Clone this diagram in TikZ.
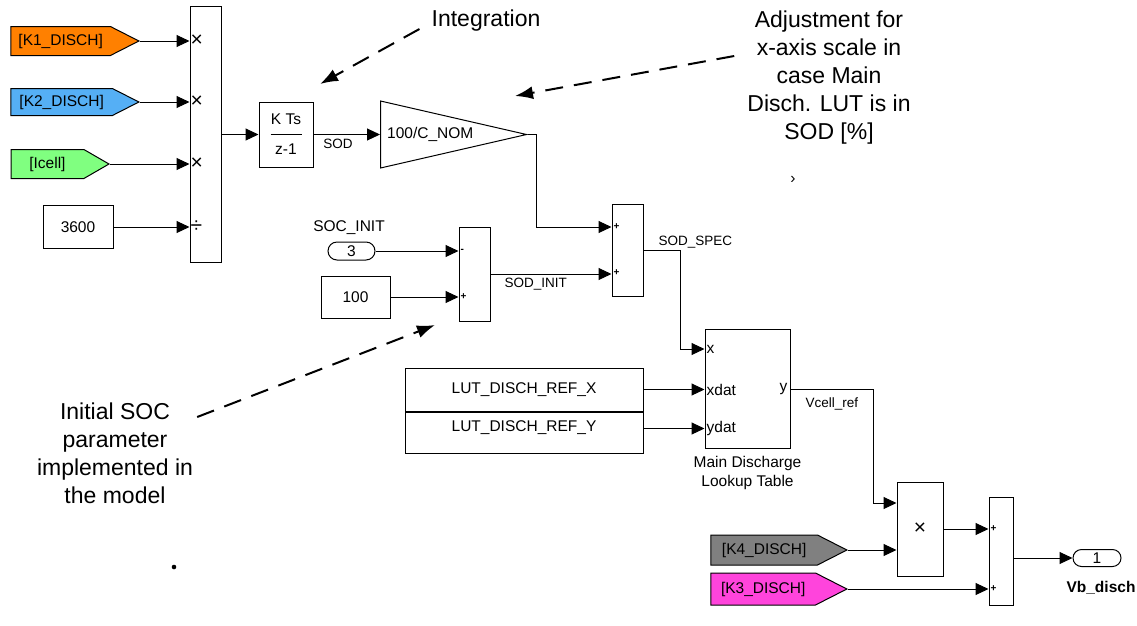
\documentclass[tikz,border=0pt]{standalone}
\usepackage{fontspec}
\setmainfont{Liberation Sans}
\usetikzlibrary{arrows.meta,shapes.geometric,shapes.symbols,shapes.misc}

\definecolor{naranja}{RGB}{255,128,0}
\definecolor{celeste}{RGB}{85,175,245}
\definecolor{verde}{RGB}{128,255,128}
\definecolor{gris}{RGB}{128,128,128}
\definecolor{rosa}{RGB}{255,68,220}

\tikzset{
  f15/.style={font=\fontsize{15.5}{18}\selectfont},
  f13/.style={font=\fontsize{13.5}{16}\selectfont},
  f9/.style={font=\fontsize{10}{11}\selectfont\bfseries},
  signo/.style={font=\fontsize{21}{22}\selectfont},
  nota/.style={font=\fontsize{23}{28}\selectfont, align=center, inner sep=0pt},
  bloque/.style={draw, line width=1pt, inner sep=0pt, f15},
  etiq/.style={signal, signal to=east, signal pointer angle=54, draw, line width=1pt,
    inner sep=0pt, f15, anchor=east},
  ovalo/.style={rounded rectangle, draw, line width=1pt, inner sep=0pt, f15,
    minimum width=47pt, minimum height=18pt},
  senal/.style={-{Triangle[length=13pt,width=12pt]}, line width=1pt},
  flecha/.style={-{Latex[length=18pt,width=13pt]}, line width=2pt, dash pattern=on 18pt off 11pt},
  puerto/.style={f9, inner sep=2pt, anchor=west},
}

\begin{document}
\begin{tikzpicture}[x=1pt, y=-1pt]
  \useasboundingbox (0,0) rectangle (1137,625);
  % las etiquetas de entrada
  \node[etiq, fill=naranja, minimum width=128pt, minimum height=29pt] (k1) at (140,41) {[K1\_DISCH]};
  \node[etiq, fill=celeste, minimum width=128pt, minimum height=27pt] (k2) at (140,102) {[K2\_DISCH]};
  \node[etiq, fill=verde, signal pointer angle=60, minimum width=98pt, minimum height=29pt] (icell) at (110,164) {[Icell]};
  \node[bloque, minimum width=70pt, minimum height=43pt] (c3600) at (78,227) {3600};
  % el producto
  \node[bloque, minimum width=31pt, minimum height=256pt] (prod) at (205.5,134.5) {};
  \foreach \e/\s in {k1/×, k2/×, icell/×, c3600/÷} {
    \draw[senal] (\e.east) -- (\e.east -| prod.west);
    \node[signo, anchor=west, inner sep=1pt] at (\e.east -| prod.west) {\s};
  }
  % el integrador y la ganancia
  \node[bloque, minimum width=54pt, minimum height=65pt, align=center] (integ) at (286,134.5) {K Ts\\[12pt]z-1};
  \draw[line width=1pt] ([xshift=-15.5pt]integ.center) -- ([xshift=15.5pt]integ.center);
  \node[draw, line width=1pt, isosceles triangle, isosceles triangle stretches, inner sep=0pt,
    minimum width=67pt, minimum height=146pt, anchor=west] (gain) at (380,134.5) {};
  \node[f15, anchor=west, inner sep=0pt] (gainlbl) at ([xshift=7pt]gain.west) {100/C\_NOM};
  \draw[senal] (prod.east) -- (integ.west);
  \draw[senal] (integ.east) -- (gain.west);
  \node[f13, anchor=base] (lsod) at (338,148) {SOD};
  % el estado inicial
  \node[f15, anchor=base] (socname) at (349,231) {SOC\_INIT};
  \node[ovalo] (soc) at (351.5,251) {3};
  \node[bloque, minimum width=69pt, minimum height=42pt] (c100) at (355.5,297) {100};
  \node[bloque, minimum width=31pt, minimum height=94pt] (suma1) at (474.5,274) {};
  \draw[senal] (soc.east) -- (soc.east -| suma1.west);
  \draw[senal] (c100.east) -- (c100.east -| suma1.west);
  \node[puerto] at (soc.east -| suma1.west) {-};
  \node[puerto] at (c100.east -| suma1.west) {+};
  % la suma SOD_SPEC
  \node[bloque, minimum width=31pt, minimum height=92pt] (suma2) at (627.5,250) {};
  \draw[senal] (gain.apex) -- ++(9,0) |- ([yshift=23pt]suma2.west);
  \draw[senal] (suma1.east) -- (suma1.east -| suma2.west);
  \node[puerto] at ([yshift=23pt]suma2.west) {+};
  \node[puerto] at ([yshift=-23pt]suma2.west) {+};
  \node[f13, anchor=base west] (lsodinit) at (501,287) {SOD\_INIT};
  \node[f13, anchor=base west] (lsodspec) at (655,245) {SOD\_SPEC};
  % la tabla de consulta
  \node[bloque, minimum width=85pt, minimum height=119pt] (lut) at (747.5,389) {};
  \node[bloque, minimum width=238pt, minimum height=43pt] (lutx) at (524,389.5) {LUT\_DISCH\_REF\_X};
  \node[bloque, minimum width=238pt, minimum height=41pt, text depth=13.5pt, anchor=north] (luty) at (lutx.south) {LUT\_DISCH\_REF\_Y};
  \draw[senal] (suma2.east) -- ++(37,0) |- ([yshift=40pt]lut.west);
  \draw[senal] (lutx.east) -- (lutx.east -| lut.west);
  \draw[senal] ([yshift=4pt]luty.east) -- ([yshift=4pt]luty.east -| lut.west);
  \node[anchor=west, f15, inner sep=2pt] at ([yshift=40pt]lut.west) {x};
  \node[anchor=west, f15, inner sep=2pt] at (lutx.east -| lut.west) {xdat};
  \node[anchor=west, f15, inner sep=2pt] at ([yshift=4pt]luty.east -| lut.west) {ydat};
  \node[f15, anchor=east, inner sep=3pt] at (lut.east) {y};
  \node[font=\fontsize{15.5}{19.5}\selectfont, align=center, anchor=north, inner sep=0pt] (lutnom) at ([yshift=-7pt]lut.south) {Main Discharge\\Lookup Table};
  \node[f13, anchor=base west] (lvcell) at (802,407) {Vcell\_ref};
  % el producto final y la salida
  \node[bloque, signo, minimum width=46pt, minimum height=94pt] (prod2) at (920,529) {×};
  \node[etiq, fill=gris, minimum width=136pt, minimum height=30pt] (k4) at (848,550) {[K4\_DISCH]};
  \node[etiq, fill=rosa, minimum width=136pt, minimum height=32pt] (k3) at (848,589) {[K3\_DISCH]};
  \node[bloque, minimum width=24pt, minimum height=108pt] (suma3) at (1001,551) {};
  \node[ovalo, minimum width=48pt, minimum height=17pt] (salida) at (1097,558) {1};
  \draw[senal] (lut.east) -- ++(83,0) |- ([yshift=26pt]prod2.west);
  \draw[senal] (k4.east) -- (k4.east -| prod2.west);
  \draw[senal] (prod2.east) -- (prod2.east -| suma3.west);
  \draw[senal] (k3.east) -- (k3.east -| suma3.west);
  \draw[senal] ([yshift=-7pt]suma3.east) -- (salida.west);
  \node[puerto] at (prod2.east -| suma3.west) {+};
  \node[puerto] at (k3.east -| suma3.west) {+};
  \node[f15, anchor=base] (lvb) at (1101,592) {\textbf{Vb\_disch}};
  % las notas
  \node[nota, anchor=base] (nint) at (486,26) {Integration};
  \node[nota, anchor=north] (najuste) at (829,11) {Adjustment for\\x-axis scale in\\case Main\\Disch. LUT is in\\SOD [\%]};
  \node[nota, anchor=north] (nsoc) at (115,403) {Initial SOC\\parameter\\implemented in\\the model};
  \coordinate (pint) at (320,84);
  \coordinate (pgan) at (515,96);
  \coordinate (psoc) at (435,325);
  \draw[flecha] ([shift={(-12,3)}]nint.base west) -- (pint);
  \draw[flecha] ([shift={(-13,45)}]najuste.north west) -- (pgan);
  \draw[flecha] ([shift={(4,14)}]nsoc.north east) -- (psoc);
  \node[f15] (marca) at (793,180) {›};
  \fill (174,567) circle (2.3pt);
\end{tikzpicture}
\end{document}
